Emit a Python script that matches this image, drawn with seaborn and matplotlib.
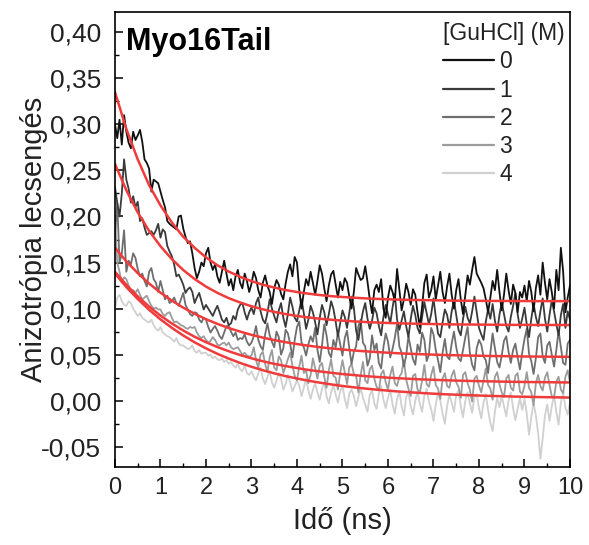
import numpy as np
import pandas as pd
import matplotlib
matplotlib.use("Agg")
import matplotlib.pyplot as plt
import seaborn as sns
from matplotlib.ticker import MultipleLocator
from matplotlib.lines import Line2D

# ---------------- data (anisotropy values in units of 1/1000) ----------------
time_ns = np.round(np.arange(201) * 0.05, 2)          # sampling grid 0..10 ns
fit_time_ns = np.round(np.arange(41) * 0.25, 2)       # fit curve grid

gu_conc = ["0", "1", "2", "3", "4"]

r_0M = [300,285,305,278,310,292,280,274,292,283,
        288,294,281,262,258,252,227,240,238,236,
        227,218,210,195,192,190,188,186,200,201,
        187,178,171,173,160,144,133,140,150,146,
        160,166,150,142,148,135,128,140,152,138,
        125,132,120,135,142,128,122,138,130,118,
        127,140,133,120,112,128,136,125,118,105,
        122,131,126,116,110,127,140,148,135,156,
        150,120,100,118,132,125,140,128,115,130,
        147,138,122,108,125,137,141,126,112,129,
        120,133,128,113,100,118,144,137,131,133,
        146,129,110,95,120,126,118,132,100,90,
        112,125,118,108,143,120,98,110,127,118,
        104,121,115,96,80,102,128,137,112,120,
        135,110,125,140,118,106,124,138,115,100,
        120,132,110,94,115,136,126,142,156,138,
        133,128,122,110,96,112,130,120,142,118,
        98,115,138,120,105,126,117,96,118,112,
        125,108,130,118,97,122,136,115,150,128,
        110,132,118,100,142,120,166,140,96,112,
        125]

r_1M = [232,215,200,225,262,240,230,215,222,210,
        216,195,198,188,180,182,184,180,185,192,
        177,186,183,168,162,157,148,135,137,132,
        126,117,121,123,118,106,112,117,108,99,
        104,100,96,92,98,103,96,88,85,90,
        82,84,92,88,99,104,106,96,88,96,
        101,94,106,112,97,88,84,95,110,100,
        92,85,98,106,90,80,94,112,102,90,
        86,98,110,95,78,88,103,96,85,72,
        90,104,96,82,94,108,100,86,70,84,
        98,91,79,95,113,101,76,66,83,97,
        106,89,78,87,101,95,81,71,91,104,
        94,84,101,116,88,77,87,97,81,69,
        89,103,93,79,73,91,107,95,83,94,
        111,91,73,69,85,99,93,79,97,109,
        93,77,71,89,102,90,84,97,113,96,
        79,72,66,86,99,89,105,87,75,93,
        107,94,81,75,91,103,117,94,79,89,
        101,83,69,89,105,91,81,97,111,89,
        75,93,109,97,83,71,93,105,79,97,
        88]

r_2M = [180,215,150,160,185,140,152,148,160,155,
        143,135,138,130,124,140,144,132,128,118,
        130,120,110,114,106,108,112,106,103,110,
        117,104,99,94,92,96,95,88,85,90,
        88,80,74,78,81,76,70,67,74,81,
        81,75,70,74,66,68,67,72,64,60,
        63,70,81,66,59,55,72,84,71,64,
        58,75,69,50,57,77,73,62,47,66,
        80,86,63,58,49,61,70,64,79,55,
        42,60,83,71,52,47,66,58,74,61,
        49,68,76,57,40,53,59,81,88,63,
        59,38,46,71,55,62,41,35,58,73,
        64,47,56,68,84,59,52,37,49,70,
        57,45,39,61,53,74,66,43,50,79,
        72,55,44,31,52,67,48,45,62,75,
        58,46,43,55,69,80,52,39,33,57,
        66,61,48,44,30,51,73,57,42,36,
        49,65,70,53,41,55,62,47,34,52,
        67,78,51,43,29,46,69,73,48,41,
        60,64,50,37,55,76,58,41,39,62,
        66]

r_3M = [200,150,140,128,134,132,125,118,120,117,
        121,115,110,112,114,108,103,100,101,99,
        99,94,92,95,96,90,85,86,84,82,
        81,79,78,80,79,80,74,70,68,70,
        66,63,65,69,66,61,60,62,63,60,
        63,58,56,57,58,54,50,52,49,48,
        49,58,44,36,50,53,40,31,47,55,
        36,33,48,44,30,37,45,52,38,27,
        22,37,49,30,33,19,28,46,35,24,
        38,41,26,14,33,45,27,25,12,30,
        44,31,18,36,40,29,27,9,28,42,
        22,19,34,38,24,15,11,29,33,20,
        12,28,37,19,16,26,30,44,23,13,
        5,27,29,12,9,22,39,18,15,28,
        37,17,13,2,24,30,16,14,27,33,
        20,15,3,28,31,19,12,-1,24,27,
        16,9,22,35,17,13,1,26,31,18,
        9,4,24,28,14,11,27,30,10,7,
        16,31,14,9,-5,19,28,16,11,25,
        31,17,5,3,21,26,12,8,26,33,
        20]

r_4M = [100,112,115,108,104,103,108,106,100,96,
        92,95,90,88,86,85,88,82,78,76,
        80,74,72,70,69,67,64,68,62,60,
        60,58,56,57,60,54,52,55,51,52,
        52,49,50,46,48,45,44,46,42,44,
        40,42,38,36,40,34,32,38,30,28,
        32,26,22,30,36,24,18,26,32,20,
        14,22,30,24,12,18,28,20,10,16,
        22,16,5,14,24,11,2,12,19,9,
        1,13,20,5,-3,9,17,7,-2,10,
        16,2,-8,8,12,5,-6,4,14,3,
        -4,-12,6,11,-3,-9,8,16,1,-8,
        3,12,-4,-14,2,10,-6,-16,4,9,
        -6,-15,0,10,-3,-12,6,13,-1,-9,
        -22,-4,9,0,-14,-25,-6,7,-2,-12,
        6,11,-6,-18,0,9,-3,-13,4,7,
        -8,-19,-2,7,-10,-24,-33,-12,3,-7,
        5,-6,-17,0,9,-8,-21,-9,3,-10,
        2,-14,-37,-18,-2,-16,-35,-63,-41,-16,
        -4,-22,-6,6,-12,-26,-2,9,-8,-15,
        -2]

fit_0M = [335,295,262,234,212,193.5,178,166,155.6,147.1,140.2,134.5,129.8,125.9,
          122.8,120.1,118.0,116.2,114.7,113.5,112.6,111.8,111.1,110.5,110.1,109.7,
          109.4,109.2,109.0,108.8,108.6,108.5,108.4,108.3,108.3,108.2,108.2,108.1,
          108.1,108.1,108.1]
fit_1M = [257,228.4,204.4,184.4,167.7,153.7,141.9,132.1,123.9,117.1,111.3,106.6,
          102.5,99.2,96.4,94.0,92.0,90.4,89.0,87.9,86.9,86.1,85.4,84.9,84.4,84.0,
          83.7,83.4,83.2,83.0,82.8,82.7,82.6,82.5,82.4,82.3,82.3,82.2,82.2,82.2,82.1]
fit_2M = [166,151.3,138.5,127.2,117.3,108.6,101.0,94.4,88.5,83.4,78.9,75.0,71.5,
          68.5,65.8,63.5,61.5,59.7,58.1,56.8,55.6,54.5,53.6,52.8,52.1,51.4,50.9,
          50.4,50.0,49.6,49.3,49.0,48.8,48.5,48.4,48.2,48.0,47.9,47.8,47.7,47.6]
fit_3M = [140,125.8,113.2,102.2,92.4,83.8,76.2,69.4,63.5,58.3,53.7,49.6,46.0,42.8,
          40.0,37.6,35.4,33.4,31.8,30.3,28.9,27.8,26.7,25.8,25.0,24.3,23.7,23.1,
          22.7,22.2,21.8,21.5,21.2,21.0,20.7,20.5,20.3,20.2,20.1,19.9,19.8]
fit_4M = [138,123.4,110.4,98.7,88.3,79.1,70.8,63.4,56.8,50.9,45.7,41.0,36.8,33.1,
          29.7,26.7,24.1,21.7,19.6,17.7,16.0,14.5,13.2,12.0,10.9,9.9,9.1,8.3,7.6,
          7.0,6.5,6.0,5.6,5.2,4.9,4.5,4.3,4.0,3.8,3.6,3.4]

series = [r_0M, r_1M, r_2M, r_3M, r_4M]
fits = [fit_0M, fit_1M, fit_2M, fit_3M, fit_4M]
line_colors = ["#111111", "#3a3a3a", "#6e6e6e", "#9c9c9c", "#d0d0d0"]
fit_color = "#ef3b3b"

xticks = [0, 1, 2, 3, 4, 5, 6, 7, 8, 9, 10]
xtick_labels = ["0", "1", "2", "3", "4", "5", "6", "7", "8", "9", "10"]
yticks = [-0.05, 0.0, 0.05, 0.10, 0.15, 0.20, 0.25, 0.30, 0.35, 0.40]
ytick_labels = ["-0,05", "0,00", "0,05", "0,10", "0,15", "0,20", "0,25", "0,30", "0,35", "0,40"]

# ---------------- figure ----------------
sns.set_theme(style="ticks")
plt.rcParams["font.family"] = ["Liberation Sans", "DejaVu Sans"]
plt.rcParams["axes.linewidth"] = 1.2

fig = plt.figure(figsize=(5.89, 5.45), dpi=100)
ax = fig.add_axes([0.1952, 0.1431, 0.7725, 0.8349])

# data lines: light ones first so darker lie on top
for i in reversed(range(5)):
    df = pd.DataFrame({"t": time_ns, "r": np.array(series[i], dtype=float) / 1000.0})
    sns.lineplot(data=df, x="t", y="r", ax=ax, color=line_colors[i], lw=1.3,
                 estimator=None, sort=False, legend=False)

for i in range(5):
    df = pd.DataFrame({"t": fit_time_ns, "r": np.array(fits[i], dtype=float) / 1000.0})
    sns.lineplot(data=df, x="t", y="r", ax=ax, color=fit_color, lw=1.8,
                 estimator=None, sort=False, legend=False)

ax.set_xlim(0, 10)
ax.set_ylim(-0.072, 0.422)
ax.set_xticks(xticks, labels=xtick_labels)
ax.set_yticks(yticks, labels=ytick_labels)
ax.xaxis.set_minor_locator(MultipleLocator(0.5))
ax.yaxis.set_minor_locator(MultipleLocator(0.025))
ax.tick_params(axis="both", which="major", direction="in", length=6, width=1.1,
               color="black", labelcolor="#222222")
ax.tick_params(axis="both", which="minor", direction="in", length=3, width=1.0, color="black")
ax.tick_params(axis="y", which="major", pad=10, labelsize=19)
ax.tick_params(axis="x", which="major", pad=7, labelsize=17)
ax.tick_params(top=False, right=False, which="both")
for s in ax.spines.values():
    s.set_visible(True)
    s.set_color("black")
    s.set_linewidth(1.2)

ax.set_xlabel("Idő (ns)", fontsize=21, color="#222222", labelpad=6)
ax.set_ylabel("Anizotrópia lecsengés", fontsize=21, color="#222222")
ax.yaxis.set_label_coords(-0.148, 0.5)

ax.text(0.025, 0.968, "Myo16Tail", transform=ax.transAxes, fontsize=22,
        fontweight="bold", va="top", ha="left", color="black")

handles = [Line2D([0], [0], color=line_colors[i], lw=1.6) for i in range(5)]
leg = ax.legend(handles, gu_conc, title="[GuHCl] (M)", loc="upper right",
                bbox_to_anchor=(0.989, 0.977), frameon=False, fontsize=16.5,
                title_fontsize=16.5, handlelength=2.2, handletextpad=0.25,
                labelspacing=0.22, borderpad=0, borderaxespad=0, alignment="left")
for txt in leg.get_texts():
    txt.set_color("#222222")
leg.get_title().set_color("#222222")

fig.savefig("out.png", dpi=100, facecolor="white")
